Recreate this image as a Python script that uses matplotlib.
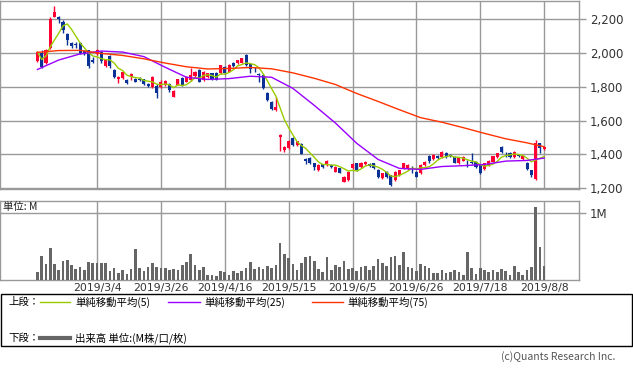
import matplotlib
matplotlib.use("Agg")
import matplotlib.pyplot as plt
import numpy as np
import pandas as pd
from matplotlib.patches import Rectangle
from matplotlib.lines import Line2D

# ---------------- data ----------------
opens = [1950, 1997, 1938, 2030, 2215, 2214, 2182, 2110, 2058, 2052,
         2056, 2012, 2017, 1960, 1992, 2005, 1925, 1980, 1898, 1846,
         1851, 1842, 1858, 1843, 1848, 1843, 1815, 1800, 1806, 1800,
         1810, 1818, 1742, 1813, 1853, 1830, 1838, 1862, 1898, 1840,
         1855, 1879, 1880, 1880, 1917, 1890, 1938, 1938, 1942, 1987,
         1934, 1900, 1876, 1869, 1764, 1712, 1662, 1500, 1425, 1436,
         1494, 1455, 1464, 1370, 1378, 1346, 1308, 1340, 1336, 1336,
         1298, 1317, 1238, 1247, 1317, 1346, 1326, 1340, 1345, 1346,
         1307, 1258, 1296, 1277, 1248, 1278, 1318, 1312, 1320, 1297,
         1288, 1336, 1389, 1370, 1390, 1385, 1407, 1395, 1385, 1346,
         1362, 1345, 1352, 1356, 1336, 1311, 1336, 1356, 1385, 1445,
         1398, 1409, 1385, 1395, 1370, 1350, 1307, 1257, 1465, 1430]
closes = [2005, 1918, 2020, 2200, 2243, 2202, 2135, 2076, 2040, 2046,
          2000, 1992, 1925, 1948, 2016, 1950, 1960, 1920, 1856, 1858,
          1885, 1824, 1876, 1828, 1842, 1815, 1802, 1856, 1760, 1830,
          1832, 1778, 1772, 1843, 1810, 1858, 1868, 1888, 1830, 1888,
          1879, 1845, 1842, 1926, 1880, 1928, 1924, 1957, 1968, 1928,
          1904, 1896, 1868, 1790, 1722, 1666, 1678, 1516, 1445, 1480,
          1455, 1476, 1404, 1362, 1346, 1326, 1338, 1328, 1362, 1328,
          1326, 1292, 1268, 1296, 1344, 1308, 1350, 1356, 1330, 1318,
          1268, 1287, 1268, 1220, 1296, 1306, 1346, 1336, 1312, 1268,
          1336, 1356, 1362, 1395, 1377, 1415, 1385, 1388, 1350, 1376,
          1385, 1340, 1348, 1326, 1291, 1346, 1360, 1389, 1405, 1415,
          1394, 1382, 1415, 1388, 1390, 1311, 1277, 1468, 1435, 1445]
highs = [2012, 2017, 2024, 2210, 2277, 2220, 2194, 2115, 2066, 2064,
         2062, 2020, 2020, 1975, 2025, 2012, 1965, 1990, 1905, 1862,
         1890, 1848, 1880, 1850, 1856, 1848, 1822, 1862, 1815, 1838,
         1838, 1822, 1778, 1848, 1858, 1862, 1908, 1892, 1902, 1892,
         1884, 1884, 1886, 1930, 1922, 1932, 1948, 1960, 1972, 1995,
         1938, 1915, 1880, 1872, 1768, 1716, 1740, 1520, 1450, 1484,
         1500, 1480, 1468, 1376, 1382, 1350, 1342, 1345, 1366, 1340,
         1330, 1320, 1272, 1300, 1348, 1350, 1354, 1360, 1350, 1350,
         1312, 1292, 1300, 1280, 1300, 1310, 1350, 1340, 1330, 1300,
         1340, 1360, 1396, 1400, 1394, 1418, 1412, 1400, 1390, 1380,
         1388, 1365, 1405, 1360, 1340, 1350, 1364, 1392, 1410, 1450,
         1412, 1414, 1418, 1400, 1394, 1354, 1310, 1482, 1468, 1448]
lows = [1945, 1908, 1935, 2025, 2210, 2178, 2115, 2046, 2030, 2028,
        1992, 1985, 1908, 1940, 1988, 1940, 1918, 1910, 1850, 1823,
        1848, 1818, 1838, 1825, 1835, 1808, 1798, 1792, 1736, 1795,
        1805, 1770, 1738, 1808, 1805, 1826, 1832, 1858, 1825, 1835,
        1850, 1840, 1838, 1876, 1876, 1886, 1918, 1934, 1938, 1920,
        1880, 1890, 1828, 1786, 1718, 1660, 1658, 1422, 1415, 1430,
        1450, 1450, 1400, 1345, 1340, 1305, 1304, 1320, 1332, 1322,
        1294, 1288, 1235, 1242, 1312, 1302, 1322, 1336, 1325, 1312,
        1262, 1252, 1262, 1210, 1244, 1274, 1312, 1308, 1288, 1264,
        1284, 1332, 1350, 1366, 1372, 1380, 1380, 1384, 1346, 1342,
        1358, 1328, 1342, 1322, 1285, 1306, 1332, 1352, 1380, 1410,
        1385, 1378, 1380, 1384, 1366, 1306, 1265, 1250, 1405, 1426]
volumes_m = [0.125, 0.36, 0.24, 0.485, 0.24, 0.15, 0.285, 0.30, 0.225, 0.165,
             0.20, 0.15, 0.27, 0.25, 0.25, 0.255, 0.255, 0.135, 0.18, 0.105,
             0.15, 0.085, 0.165, 0.465, 0.18, 0.135, 0.195, 0.255, 0.195, 0.185,
             0.185, 0.15, 0.165, 0.15, 0.225, 0.27, 0.39, 0.225, 0.15, 0.195,
             0.075, 0.075, 0.06, 0.135, 0.12, 0.075, 0.135, 0.105, 0.135, 0.18,
             0.27, 0.165, 0.195, 0.165, 0.21, 0.18, 0.225, 0.555, 0.39, 0.335,
             0.24, 0.15, 0.255, 0.345, 0.36, 0.285, 0.165, 0.12, 0.345, 0.15,
             0.225, 0.195, 0.285, 0.165, 0.18, 0.135, 0.195, 0.21, 0.15, 0.21,
             0.315, 0.255, 0.21, 0.345, 0.36, 0.225, 0.42, 0.195, 0.18, 0.135,
             0.24, 0.21, 0.18, 0.105, 0.105, 0.15, 0.105, 0.12, 0.15, 0.12,
             0.075, 0.42, 0.18, 0.09, 0.18, 0.15, 0.12, 0.15, 0.12, 0.165,
             0.135, 0.075, 0.21, 0.12, 0.075, 0.15, 0.195, 1.095, 0.495, 0.21]

# moving averages (bar index, value)
ma_idx = [0, 5, 10, 15, 20, 25, 30, 35, 40, 45, 50, 55, 60, 65, 70, 75,
          80, 85, 90, 95, 100, 105, 110, 115, 119]
ma25 = [1902, 1958, 1994, 2011, 2005, 1978, 1915, 1856, 1843, 1848, 1862, 1856,
        1790, 1690, 1585, 1465, 1370, 1317, 1311, 1328, 1333, 1340, 1360, 1364, 1378]
ma75 = [2003, 2014, 2015, 1997, 1985, 1965, 1940, 1918, 1905, 1908, 1914, 1906,
        1882, 1850, 1813, 1760, 1713, 1664, 1617, 1590, 1558, 1524, 1492, 1468, 1445]

date_idx = [14, 29, 44, 59, 74, 89, 104, 119]
date_labels = ["2019/3/4", "2019/3/26", "2019/4/16", "2019/5/15",
               "2019/6/5", "2019/6/26", "2019/7/18", "2019/8/8"]
price_ticks = [1200, 1400, 1600, 1800, 2000, 2200]
price_tick_labels = ["1,200", "1,400", "1,600", "1,800", "2,000", "2,200"]

ma5 = pd.Series(closes).rolling(5, min_periods=1).mean()

# ---------------- style ----------------
UP = "#ff0033"
DOWN = "#0a3296"
C_MA5 = "#99cc00"
C_MA25 = "#9900ff"
C_MA75 = "#ff3300"
GRID = "#999999"
VOL = "#666666"
JP = ["Noto Sans CJK JP", "DejaVu Sans"]

W, H = 633, 369
fig = plt.figure(figsize=(W / 100, H / 100), dpi=100)
fx = lambda px: px / W
fy = lambda py: 1 - py / H

ax = fig.add_axes([fx(0), fy(189), fx(579), (189 - 0.5) / H])
axv = fig.add_axes([fx(0), fy(280), fx(579), (280 - 201) / H])

n = len(closes)
xs = np.arange(n)
xlim = (-8.8, 127.2)

# candles
for i in xs:
    o, c, h, l = opens[i], closes[i], highs[i], lows[i]
    col = UP if c >= o else DOWN
    ax.vlines(i, l, h, color=col, lw=1, zorder=3)
    body = max(abs(c - o), 4)
    ax.bar(i, body, bottom=min(o, c), width=0.72, color=col, lw=0, zorder=4)

ax.plot(xs, ma5, color=C_MA5, lw=1, zorder=5)
ax.plot(ma_idx, ma25, color=C_MA25, lw=1, zorder=5)
ax.plot(ma_idx, ma75, color=C_MA75, lw=1, zorder=5)

ax.set_xlim(*xlim)
ax.set_ylim(1195, 2310)
ax.yaxis.tick_right()
ax.set_yticks(price_ticks)
ax.set_yticklabels(price_tick_labels, fontsize=8.5, color="#333333")
ax.tick_params(axis="y", length=5, width=1, color=GRID, pad=3)
ax.set_xticks(date_idx)
ax.tick_params(axis="x", length=0, labelbottom=False)
ax.grid(True, color=GRID, lw=1)
ax.set_axisbelow(True)
for s in ax.spines.values():
    s.set_color(GRID)
    s.set_linewidth(1)

# volume
axv.bar(xs, volumes_m, width=0.62, color=VOL, lw=0, zorder=3)
axv.set_xlim(*xlim)
axv.set_ylim(0, 1.185)
axv.yaxis.tick_right()
axv.set_yticks([1.0])
axv.set_yticklabels(["1M"], fontsize=8.5, color="#333333")
axv.tick_params(axis="y", length=5, width=1, color=GRID, pad=3)
axv.set_xticks(date_idx)
axv.set_xticklabels(date_labels, fontsize=7.8, color="#333333")
axv.tick_params(axis="x", length=0, pad=2)
axv.grid(True, color=GRID, lw=1)
axv.set_axisbelow(True)
for s in axv.spines.values():
    s.set_color(GRID)
    s.set_linewidth(1)
axv.text(fx(3) / fx(579), 1 - (207 - 201) / 79, "単位: M", transform=axv.transAxes,
         ha="left", va="center", fontsize=7.5, family=JP, color="#222222")

# legend box
fig.add_artist(Rectangle((fx(0.5), fy(346)), fx(631.5) - fx(0.5), (346 - 294) / H,
                         transform=fig.transFigure, fill=False, edgecolor="black", lw=1))
fig.text(fx(8), fy(302), "上段：", family=JP, fontsize=7.5, va="center", ha="left")
fig.text(fx(8), fy(338), "下段：", family=JP, fontsize=7.5, va="center", ha="left")
fig.add_artist(Line2D([fx(40), fx(70)], [fy(302), fy(302)], color=C_MA5, lw=1))
fig.text(fx(75), fy(302), "単純移動平均(5)", family=JP, fontsize=7.5, va="center")
fig.add_artist(Line2D([fx(168), fx(200)], [fy(302), fy(302)], color=C_MA25, lw=1))
fig.text(fx(204), fy(302), "単純移動平均(25)", family=JP, fontsize=7.5, va="center")
fig.add_artist(Line2D([fx(312), fx(343)], [fy(302), fy(302)], color=C_MA75, lw=1))
fig.text(fx(347), fy(302), "単純移動平均(75)", family=JP, fontsize=7.5, va="center")
fig.add_artist(Line2D([fx(40), fx(70)], [fy(338), fy(338)], color=VOL, lw=3))
fig.text(fx(75), fy(338), "出来高 単位:(M株/口/枚)", family=JP, fontsize=7.5, va="center")

fig.text(fx(615), fy(357), "(c)Quants Research Inc.", family=JP, fontsize=7.5,
         va="center", ha="right", color="#555555")

fig.savefig("out.png", dpi=100)
